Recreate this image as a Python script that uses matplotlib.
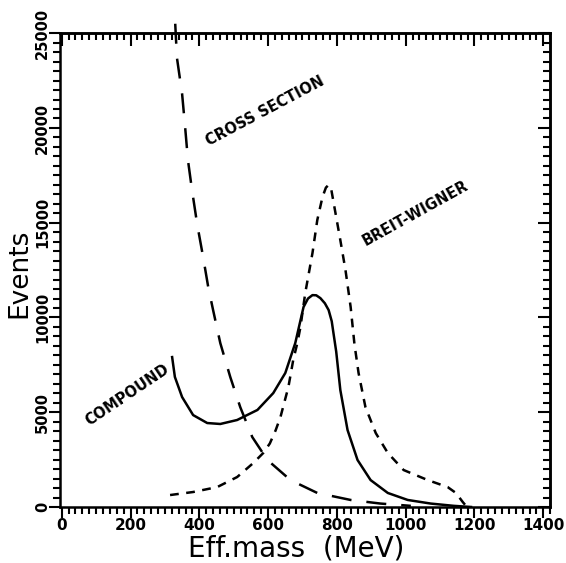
import matplotlib
matplotlib.use("Agg")
import matplotlib.pyplot as plt
from matplotlib.ticker import MultipleLocator

# values
cross_x = [330, 335, 350, 359, 367, 379, 394, 411, 426, 440, 461, 490, 519, 554, 598, 665, 743,
           840, 927, 1015]
cross_y = [25500, 23700, 21800, 20000, 18300, 16700, 14900, 13200, 11600, 10400, 8650, 6860,
           5270, 3690, 2480, 1420, 740, 370, 180, 60]

bw_x = [315, 382, 452, 510, 557, 586, 605, 622, 636, 659, 673, 685, 694, 708, 729, 743, 758, 768,
        776, 784, 796, 810, 825, 840, 851, 863, 883, 913, 948, 994, 1064, 1122, 1146, 1166, 1178]
bw_y = [630, 790, 1050, 1580, 2320, 2850, 3350, 4050, 4750, 6330, 7750, 8650, 9490, 11290, 13400,
        15140, 16350, 16850, 17000, 16720, 15500, 14080, 12500, 10550, 8600, 7070, 5270, 3900,
        2850, 1950, 1420, 1050, 740, 260, 0]

comp_x = [321, 329, 350, 382, 423, 461, 510, 569, 615, 650, 679, 703, 716, 729, 740, 752, 765, 776,
          785, 790, 798, 810, 831, 860, 898, 948, 1006, 1073, 1140, 1190]
comp_y = [7910, 6860, 5800, 4850, 4430, 4380, 4590, 5120, 6010, 7070, 8650, 10550, 11000, 11180,
          11170, 11020, 10750, 10390, 9800, 9180, 8200, 6170, 4060, 2480, 1420, 740, 370, 180,
          60, 0]

labels = {"COMPOUND": (190, 5900, 34), "CROSS SECTION": (592, 20900, 28),
          "BREIT-WIGNER": (1029, 15500, 29)}

fig = plt.figure(figsize=(5.66, 5.63), dpi=100)
ax = fig.add_axes([0.106, 0.0995, 0.866, 0.8415])

ax.plot(cross_x, cross_y, color="black", lw=1.8, dashes=(8, 6), clip_on=False)
ax.plot(bw_x, bw_y, color="black", lw=1.8, dashes=(3.5, 3))
ax.plot(comp_x, comp_y, color="black", lw=1.8)

for txt, (x, y, rot) in labels.items():
    ax.text(x, y, txt, rotation=rot, ha="center", va="center",
            fontsize=10.5, fontweight="bold", rotation_mode="anchor")

ax.set_xlim(-5, 1420)
ax.set_ylim(0, 25000)
ax.xaxis.set_major_locator(MultipleLocator(200))
ax.xaxis.set_minor_locator(MultipleLocator(20))
ax.yaxis.set_major_locator(MultipleLocator(5000))
ax.yaxis.set_minor_locator(MultipleLocator(500))

# left and bottom ticks point out
ax.tick_params(which="both", direction="out", width=1.5)
ax.tick_params(which="major", length=8)
ax.tick_params(which="minor", length=5)
ax.tick_params(axis="x", pad=0, labelsize=11)
ax.tick_params(axis="y", pad=-1, labelsize=10.5)
for lab in ax.get_xticklabels() + ax.get_yticklabels():
    lab.set_fontweight("bold")
for lab in ax.get_yticklabels():
    lab.set_rotation(90)
    lab.set_va("center")

# top and right ticks point in
top = ax.secondary_xaxis("top")
top.xaxis.set_major_locator(MultipleLocator(200))
top.xaxis.set_minor_locator(MultipleLocator(20))
top.tick_params(which="both", direction="in", width=1.5, labeltop=False)
top.tick_params(which="major", length=9)
top.tick_params(which="minor", length=5)
right = ax.secondary_yaxis("right")
right.yaxis.set_major_locator(MultipleLocator(5000))
right.yaxis.set_minor_locator(MultipleLocator(500))
right.tick_params(which="both", direction="in", width=1.5, labelright=False)
right.tick_params(which="major", length=9)
right.tick_params(which="minor", length=5)

for sp in list(ax.spines.values()) + [top.spines["top"], right.spines["right"]]:
    sp.set_linewidth(1.8)

fig.text(0.523, 0.0107, "Eff.mass  (MeV)", fontsize=20, ha="center", va="baseline")
fig.text(19 / 566, 1 - 273 / 563, "Events", fontsize=19, rotation=90,
         ha="center", va="center")

fig.savefig("out.png", dpi=100)
